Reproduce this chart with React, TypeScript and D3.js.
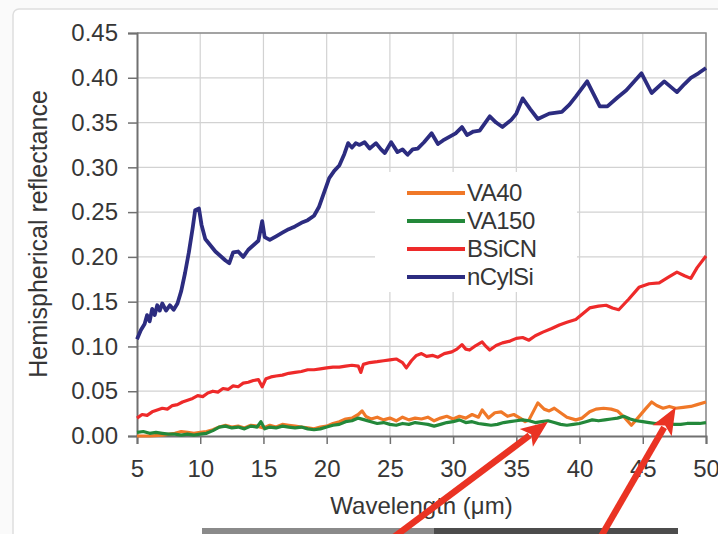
import React, { useEffect, useRef } from 'react';
import { select, scaleLinear, axisLeft, axisBottom, line, range } from 'd3';

// wavelength (um) / hemispherical reflectance pairs
const nCylSi: [number, number][] = [
  [5.0, 0.108], [5.3, 0.118], [5.6, 0.125], [5.8, 0.135], [6.0, 0.128], [6.2, 0.142],
  [6.4, 0.135], [6.6, 0.146], [6.8, 0.140], [7.0, 0.148], [7.3, 0.140], [7.6, 0.146],
  [7.9, 0.141], [8.2, 0.148], [8.5, 0.162], [8.8, 0.182], [9.1, 0.205], [9.4, 0.232],
  [9.6, 0.252], [9.9, 0.254], [10.1, 0.236], [10.4, 0.220], [10.8, 0.213], [11.2, 0.206],
  [11.6, 0.201], [12.0, 0.196], [12.3, 0.193], [12.6, 0.205], [13.0, 0.206], [13.4, 0.200],
  [13.8, 0.208], [14.2, 0.213], [14.6, 0.218], [14.9, 0.240], [15.1, 0.222], [15.5, 0.219],
  [16.0, 0.223], [16.5, 0.227], [17.0, 0.231], [17.5, 0.234], [18.0, 0.238], [18.5, 0.241],
  [19.0, 0.246], [19.4, 0.256], [19.8, 0.272], [20.2, 0.288], [20.6, 0.296], [21.0, 0.302],
  [21.4, 0.315], [21.7, 0.327], [22.0, 0.322], [22.3, 0.327], [22.6, 0.325], [23.0, 0.328],
  [23.4, 0.321], [23.9, 0.327], [24.3, 0.320], [24.6, 0.316], [25.1, 0.328], [25.6, 0.317],
  [26.0, 0.320], [26.4, 0.314], [26.8, 0.320], [27.2, 0.321], [27.7, 0.328], [28.3, 0.338],
  [28.8, 0.326], [29.2, 0.330], [29.7, 0.334], [30.2, 0.338], [30.7, 0.345], [31.1, 0.336],
  [31.6, 0.340], [32.1, 0.341], [32.9, 0.357], [33.4, 0.350], [33.9, 0.345], [34.6, 0.353],
  [35.0, 0.360], [35.5, 0.377], [36.1, 0.365], [36.7, 0.354], [37.6, 0.360], [38.6, 0.362],
  [39.2, 0.370], [39.7, 0.379], [40.6, 0.396], [41.1, 0.382], [41.6, 0.368], [42.2, 0.368],
  [43.0, 0.378], [43.7, 0.386], [44.9, 0.405], [45.7, 0.383], [46.7, 0.396], [47.7, 0.384],
  [48.3, 0.393], [48.8, 0.400], [49.4, 0.405], [50.0, 0.411],
];

const bsicn: [number, number][] = [
  [5.0, 0.020], [5.4, 0.024], [5.8, 0.023], [6.2, 0.027], [6.6, 0.029], [7.0, 0.031],
  [7.4, 0.030], [7.8, 0.034], [8.2, 0.035], [8.6, 0.038], [9.0, 0.040], [9.4, 0.042],
  [9.8, 0.045], [10.2, 0.044], [10.6, 0.048], [11.0, 0.050], [11.4, 0.049], [11.8, 0.053],
  [12.2, 0.052], [12.6, 0.056], [13.0, 0.055], [13.4, 0.059], [13.8, 0.060], [14.2, 0.062],
  [14.6, 0.063], [14.9, 0.055], [15.2, 0.064], [15.6, 0.066], [16.0, 0.067], [16.5, 0.068],
  [17.0, 0.070], [17.5, 0.071], [18.0, 0.072], [18.5, 0.074], [19.0, 0.074], [19.5, 0.075],
  [20.0, 0.076], [20.5, 0.077], [21.0, 0.077], [21.5, 0.078], [22.0, 0.079], [22.5, 0.078],
  [22.7, 0.071], [22.9, 0.080], [23.4, 0.082], [24.0, 0.083], [24.5, 0.084], [25.0, 0.085],
  [25.5, 0.086], [26.0, 0.082], [26.3, 0.076], [26.7, 0.084], [27.1, 0.090], [27.5, 0.092],
  [27.9, 0.089], [28.4, 0.090], [28.8, 0.088], [29.3, 0.092], [29.9, 0.094], [30.3, 0.097],
  [30.7, 0.102], [31.0, 0.097], [31.3, 0.096], [31.8, 0.101], [32.3, 0.105], [32.6, 0.100],
  [32.9, 0.096], [33.4, 0.101], [33.9, 0.104], [34.5, 0.106], [35.0, 0.109], [35.5, 0.110],
  [36.0, 0.107], [36.5, 0.112], [37.1, 0.116], [37.8, 0.120], [38.4, 0.124], [39.0, 0.127],
  [39.7, 0.130], [40.3, 0.137], [40.8, 0.143], [41.5, 0.145], [42.1, 0.146], [42.6, 0.143],
  [43.1, 0.141], [43.9, 0.153], [44.7, 0.166], [45.5, 0.170], [46.3, 0.171], [47.0, 0.177],
  [47.7, 0.183], [48.3, 0.179], [48.8, 0.176], [49.3, 0.188], [50.0, 0.201],
];

const va150: [number, number][] = [
  [5.0, 0.004], [5.5, 0.005], [6.0, 0.003], [6.5, 0.004], [7.0, 0.003], [7.5, 0.002],
  [8.0, 0.002], [8.5, 0.001], [9.0, 0.002], [9.5, 0.001], [10.0, 0.002], [10.5, 0.003],
  [11.0, 0.006], [11.5, 0.010], [12.0, 0.011], [12.5, 0.009], [13.0, 0.010], [13.5, 0.008],
  [14.0, 0.011], [14.5, 0.010], [14.8, 0.016], [15.1, 0.008], [15.5, 0.010], [16.0, 0.009],
  [16.5, 0.011], [17.0, 0.010], [17.5, 0.009], [18.0, 0.010], [18.5, 0.008], [19.0, 0.007],
  [19.5, 0.008], [20.0, 0.010], [20.5, 0.012], [21.0, 0.013], [21.5, 0.016], [22.0, 0.017],
  [22.5, 0.020], [23.0, 0.018], [23.5, 0.016], [24.0, 0.014], [24.5, 0.015], [25.0, 0.013],
  [25.5, 0.012], [26.0, 0.014], [26.5, 0.013], [27.0, 0.015], [27.5, 0.014], [28.0, 0.013],
  [28.5, 0.011], [29.0, 0.013], [29.5, 0.015], [30.0, 0.016], [30.5, 0.018], [31.0, 0.015],
  [31.5, 0.016], [32.0, 0.014], [32.5, 0.013], [33.0, 0.012], [33.5, 0.013], [34.0, 0.015],
  [34.5, 0.016], [35.0, 0.017], [35.5, 0.018], [36.0, 0.017], [36.5, 0.015], [37.0, 0.016],
  [37.5, 0.017], [38.0, 0.015], [38.5, 0.013], [39.0, 0.012], [39.5, 0.013], [40.0, 0.014],
  [40.5, 0.016], [41.0, 0.018], [41.5, 0.017], [42.0, 0.018], [42.5, 0.019], [43.0, 0.020],
  [43.5, 0.022], [44.0, 0.019], [44.5, 0.017], [45.0, 0.016], [45.5, 0.015], [46.0, 0.014],
  [46.5, 0.015], [47.0, 0.014], [47.5, 0.013], [48.0, 0.013], [48.5, 0.014], [49.0, 0.014],
  [49.5, 0.014], [50.0, 0.015],
];

const va40: [number, number][] = [
  [5.0, 0.000], [6.0, 0.000], [7.0, 0.001], [8.0, 0.003], [8.5, 0.005], [9.0, 0.004],
  [9.5, 0.003], [10.0, 0.004], [10.5, 0.005], [11.0, 0.007], [11.5, 0.010], [12.0, 0.012],
  [12.5, 0.010], [13.0, 0.011], [13.5, 0.009], [14.0, 0.012], [14.5, 0.011], [15.0, 0.009],
  [15.5, 0.012], [16.0, 0.010], [16.5, 0.013], [17.0, 0.012], [17.5, 0.011], [18.0, 0.010],
  [18.5, 0.009], [19.0, 0.008], [19.5, 0.010], [20.0, 0.011], [20.5, 0.014], [21.0, 0.016],
  [21.5, 0.019], [22.0, 0.020], [22.5, 0.024], [22.8, 0.028], [23.1, 0.022], [23.5, 0.019],
  [24.0, 0.021], [24.5, 0.018], [25.0, 0.020], [25.5, 0.017], [26.0, 0.021], [26.5, 0.018],
  [27.0, 0.020], [27.5, 0.019], [28.0, 0.021], [28.5, 0.017], [29.0, 0.020], [29.5, 0.022],
  [30.0, 0.019], [30.5, 0.022], [31.0, 0.020], [31.5, 0.024], [32.0, 0.021], [32.3, 0.029],
  [32.8, 0.020], [33.3, 0.026], [33.8, 0.027], [34.3, 0.022], [34.8, 0.024], [35.3, 0.020],
  [35.7, 0.016], [36.0, 0.018], [36.7, 0.037], [37.2, 0.030], [37.6, 0.028], [38.0, 0.031],
  [38.5, 0.026], [39.0, 0.021], [39.7, 0.018], [40.2, 0.020], [40.8, 0.027], [41.3, 0.030],
  [41.9, 0.031], [42.5, 0.030], [43.0, 0.028], [43.6, 0.020], [44.1, 0.012], [44.6, 0.020],
  [45.2, 0.030], [45.7, 0.038], [46.1, 0.034], [46.6, 0.031], [47.1, 0.033], [47.6, 0.031],
  [48.2, 0.032], [48.8, 0.033], [49.3, 0.035], [50.0, 0.038],
];

const seriesNames = ['VA40', 'VA150', 'BSiCN', 'nCylSi'];
const seriesColors = ['#f07828', '#23883a', '#ee2a2a', '#2c2c80'];
const seriesData = [va40, va150, bsicn, nCylSi];

const xTicks = range(5, 51, 5);
const yTicks = range(0, 0.451, 0.05);

// annotation arrows pointing at VA40 / VA150 features: [wavelength, reflectance] of tip
const arrowTips: [number, number][] = [[37.5, 0.016], [47.6, 0.032]];

const W = 718;
const H = 534;
const margin = { left: 137, right: 12, top: 33, bottom: 98 };
const font = 'Arial, "Liberation Sans", sans-serif';
const ink = '#363636';

function App() {
  const svgRef = useRef<SVGSVGElement>(null);

  useEffect(() => {
    const svg = select(svgRef.current);
    svg.selectAll('*').remove();

    const x = scaleLinear().domain([5, 50]).range([margin.left, W - margin.right]);
    const y = scaleLinear().domain([0, 0.45]).range([H - margin.bottom, margin.top]);

    // outer frame
    svg.append('rect')
      .attr('x', 13).attr('y', 9).attr('width', 720).attr('height', 560)
      .attr('rx', 6).attr('fill', 'white').attr('stroke', '#dedede').attr('stroke-width', 1.5);

    // grid
    svg.append('g').selectAll('line').data(xTicks.slice(1)).join('line')
      .attr('x1', d => x(d)).attr('x2', d => x(d))
      .attr('y1', y(0)).attr('y2', y(0.45))
      .attr('stroke', '#d2d2d2').attr('stroke-width', 1.2);
    svg.append('g').selectAll('line').data(yTicks.slice(1)).join('line')
      .attr('x1', x(5)).attr('x2', x(50))
      .attr('y1', d => y(d)).attr('y2', d => y(d))
      .attr('stroke', '#d2d2d2').attr('stroke-width', 1.2);

    // plot frame (top / right)
    svg.append('path')
      .attr('d', `M${x(5)},${y(0.45)}H${x(50)}V${y(0)}`)
      .attr('fill', 'none').attr('stroke', '#8c8c8c').attr('stroke-width', 1.5);

    // axes
    const yAxis = axisLeft(y).tickValues(yTicks).tickSize(9).tickPadding(10)
      .tickFormat(d => (+d).toFixed(2));
    const gy = svg.append('g').attr('transform', `translate(${x(5)},0)`).call(yAxis);
    const xAxis = axisBottom(x).tickValues(xTicks).tickSize(8).tickPadding(16)
      .tickFormat(d => String(d));
    const gx = svg.append('g').attr('transform', `translate(0,${y(0)})`).call(xAxis);
    [gx, gy].forEach(g => {
      g.select('.domain').attr('stroke', '#707070').attr('stroke-width', 2);
      g.selectAll('.tick line').attr('stroke', '#707070').attr('stroke-width', 1.5);
      g.selectAll('.tick text')
        .attr('font-family', font).attr('font-size', 24).attr('fill', ink);
    });

    // legend box sits over the grid
    svg.append('rect')
      .attr('x', 375).attr('y', 172).attr('width', 202).attr('height', 120)
      .attr('fill', 'white');

    // series
    const path = line<[number, number]>().x(d => x(d[0])).y(d => y(d[1]));
    seriesData.forEach((s, i) => {
      svg.append('path').datum(s)
        .attr('d', path)
        .attr('fill', 'none')
        .attr('stroke', seriesColors[i])
        .attr('stroke-width', i === 3 ? 3.8 : 3.2)
        .attr('stroke-linejoin', 'round');
    });

    // legend
    const lg = svg.append('g').attr('transform', 'translate(407,193)');
    seriesNames.forEach((name, i) => {
      const row = lg.append('g').attr('transform', `translate(0,${i * 28})`);
      row.append('line').attr('x1', 0).attr('x2', 58)
        .attr('stroke', seriesColors[i]).attr('stroke-width', 4);
      row.append('text').attr('x', 60).attr('y', 8)
        .attr('font-family', font).attr('font-size', 24).attr('fill', ink)
        .attr('letter-spacing', '-0.5')
        .text(name);
    });

    // axis titles
    svg.append('text')
      .attr('x', (x(5) + x(50)) / 2).attr('y', 514)
      .attr('text-anchor', 'middle')
      .attr('font-family', font).attr('font-size', 24).attr('fill', ink)
      .text('Wavelength (\u03BCm)');
    svg.append('text')
      .attr('transform', 'translate(47,234) rotate(-90)')
      .attr('text-anchor', 'middle')
      .attr('font-family', font).attr('font-size', 25).attr('fill', ink)
      .text('Hemispherical reflectance');

    // image strip at the bottom edge
    svg.append('rect').attr('x', 202).attr('y', 528).attr('width', 232).attr('height', 10).attr('fill', '#8a8a8a');
    svg.append('rect').attr('x', 434).attr('y', 528).attr('width', 244).attr('height', 10).attr('fill', '#4c4c4c');

    // red arrows
    const tails: [number, number][] = [[390, 540], [599, 540]];
    arrowTips.forEach((t, i) => {
      const tx = x(t[0]);
      const ty = y(t[1]);
      const [sx, sy] = tails[i];
      const ang = Math.atan2(ty - sy, tx - sx);
      const len = 27;
      const wing = 11;
      const bx = tx - len * Math.cos(ang);
      const by = ty - len * Math.sin(ang);
      const px = -Math.sin(ang);
      const py = Math.cos(ang);
      svg.append('line')
        .attr('x1', sx).attr('y1', sy).attr('x2', bx + 4 * Math.cos(ang)).attr('y2', by + 4 * Math.sin(ang))
        .attr('stroke', '#ea3323').attr('stroke-width', 6.5);
      svg.append('path')
        .attr('d', `M${tx},${ty}L${bx + wing * px},${by + wing * py}L${bx + 6 * Math.cos(ang)},${by + 6 * Math.sin(ang)}L${bx - wing * px},${by - wing * py}Z`)
        .attr('fill', '#ea3323');
    });
  }, []);

  return (
    <svg ref={svgRef} width={W} height={H}
      style={{ position: 'absolute', left: 0, top: 0, background: '#fafafa' }} />
  );
}

export default App;
